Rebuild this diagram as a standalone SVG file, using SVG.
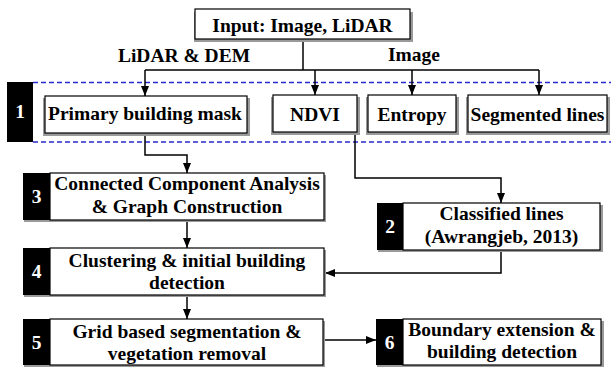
<svg xmlns="http://www.w3.org/2000/svg" width="611" height="367" viewBox="0 0 611 367">
  <style>
    .box { fill: #ffffff; stroke: #000000; stroke-width: 1.2; }
    .shadow { fill: #9a9a9a; }
    .tag { fill: #000000; }
    .t { font-family: 'Liberation Serif', 'Times New Roman', serif; font-weight: bold; font-size: 19.5px; fill: #000000; text-anchor: middle; }
    .num { font-family: 'Liberation Serif', 'Times New Roman', serif; font-weight: bold; font-size: 19.5px; fill: #ffffff; text-anchor: middle; }
    .wire { fill: none; stroke: #000000; stroke-width: 1.5; }
    .band { stroke: #2a2ad0; stroke-width: 1.3; stroke-dasharray: 5 3; fill: none; }
  </style>
  <defs>
    <marker id="arrow" markerUnits="userSpaceOnUse" markerWidth="10" markerHeight="10" viewBox="0 0 10 10" refX="10" refY="5" orient="auto">
      <path d="M0,1 L10,5 L0,9 Z" fill="#000000"/>
    </marker>
  </defs>

  <rect width="611" height="367" fill="#ffffff"/>

  <!-- stage 1 band: dashed rails with the "1" tag -->
  <g id="stage-band">
    <line class="band" x1="33" y1="82.5" x2="611" y2="82.5"/>
    <line class="band" x1="33" y1="142" x2="611" y2="142"/>
    <rect class="tag" x="7" y="82" width="26" height="60"/>
    <text class="num" x="20" y="118">1</text>
  </g>

  <!-- connectors -->
  <g id="connectors">
    <path class="wire" d="M303,39 V70"/>
    <path class="wire" d="M145,70 H539"/>
    <path class="wire" d="M145,70 V96" marker-end="url(#arrow)"/>
    <path class="wire" d="M315,70 V95" marker-end="url(#arrow)"/>
    <path class="wire" d="M412,70 V95" marker-end="url(#arrow)"/>
    <path class="wire" d="M539,70 V95" marker-end="url(#arrow)"/>
    <path class="wire" d="M145,134 V155 H187 V173" marker-end="url(#arrow)"/>
    <path class="wire" d="M355,134 V178 H501 V203" marker-end="url(#arrow)"/>
    <path class="wire" d="M187,221 V248" marker-end="url(#arrow)"/>
    <path class="wire" d="M501,251 V273 H325" marker-end="url(#arrow)"/>
    <path class="wire" d="M187,296 V319" marker-end="url(#arrow)"/>
    <path class="wire" d="M324,340 H376" marker-end="url(#arrow)"/>
  </g>

  <g id="input">
    <rect class="shadow" x="194" y="12" width="219" height="30"/>
    <rect class="box" x="195" y="9" width="215" height="30"/>
    <text class="t" x="302.5" y="32">Input: Image, LiDAR</text>
  </g>

  <text class="t" x="184" y="62">LiDAR &amp; DEM</text>
  <text class="t" x="414" y="61">Image</text>

  <g id="primary-mask">
    <rect class="shadow" x="43" y="98" width="207" height="38"/>
    <rect class="box" x="45" y="96" width="202" height="37"/>
    <text class="t" x="145" y="120">Primary building mask</text>
  </g>

  <g id="ndvi">
    <rect class="shadow" x="271" y="97" width="89" height="38"/>
    <rect class="box" x="273" y="95" width="84" height="37"/>
    <text class="t" x="315" y="121">NDVI</text>
  </g>

  <g id="entropy">
    <rect class="shadow" x="366" y="97" width="93" height="38"/>
    <rect class="box" x="368" y="95" width="88" height="37"/>
    <text class="t" x="412" y="121">Entropy</text>
  </g>

  <g id="segmented-lines">
    <rect class="shadow" x="466" y="97" width="144" height="38"/>
    <rect class="box" x="468" y="95" width="139" height="37"/>
    <text class="t" x="537.5" y="121">Segmented lines</text>
  </g>

  <g id="step3">
    <rect class="shadow" x="24" y="175" width="302" height="47"/>
    <rect class="box" x="50" y="173" width="274" height="47"/>
    <rect class="tag" x="23" y="173" width="27" height="47"/>
    <text class="num" x="36.5" y="203">3</text>
    <text class="t" x="187" y="190">Connected Component Analysis</text>
    <text class="t" x="187" y="213">&amp; Graph Construction</text>
  </g>

  <g id="step2">
    <rect class="shadow" x="378" y="205" width="225" height="47"/>
    <rect class="box" x="403" y="203" width="197" height="47"/>
    <rect class="tag" x="377" y="203" width="26" height="47"/>
    <text class="num" x="390" y="233">2</text>
    <text class="t" x="501.5" y="220">Classified lines</text>
    <text class="t" x="501.5" y="243">(Awrangjeb, 2013)</text>
  </g>

  <g id="step4">
    <rect class="shadow" x="24" y="250" width="302" height="47"/>
    <rect class="box" x="50" y="248" width="274" height="47"/>
    <rect class="tag" x="23" y="248" width="27" height="47"/>
    <text class="num" x="36.5" y="278">4</text>
    <text class="t" x="187" y="267">Clustering &amp; initial building</text>
    <text class="t" x="187" y="289">detection</text>
  </g>

  <g id="step5">
    <rect class="shadow" x="24" y="321" width="301" height="46"/>
    <rect class="box" x="50" y="319" width="273" height="46"/>
    <rect class="tag" x="23" y="319" width="27" height="46"/>
    <text class="num" x="36.5" y="349">5</text>
    <text class="t" x="187" y="338">Grid based segmentation &amp;</text>
    <text class="t" x="187" y="360">vegetation removal</text>
  </g>

  <g id="step6">
    <rect class="shadow" x="377" y="321" width="227" height="46"/>
    <rect class="box" x="403" y="319" width="198" height="46"/>
    <rect class="tag" x="376" y="319" width="27" height="46"/>
    <text class="num" x="389.5" y="349">6</text>
    <text class="t" x="502" y="336">Boundary extension &amp;</text>
    <text class="t" x="502" y="358">building detection</text>
  </g>
</svg>
